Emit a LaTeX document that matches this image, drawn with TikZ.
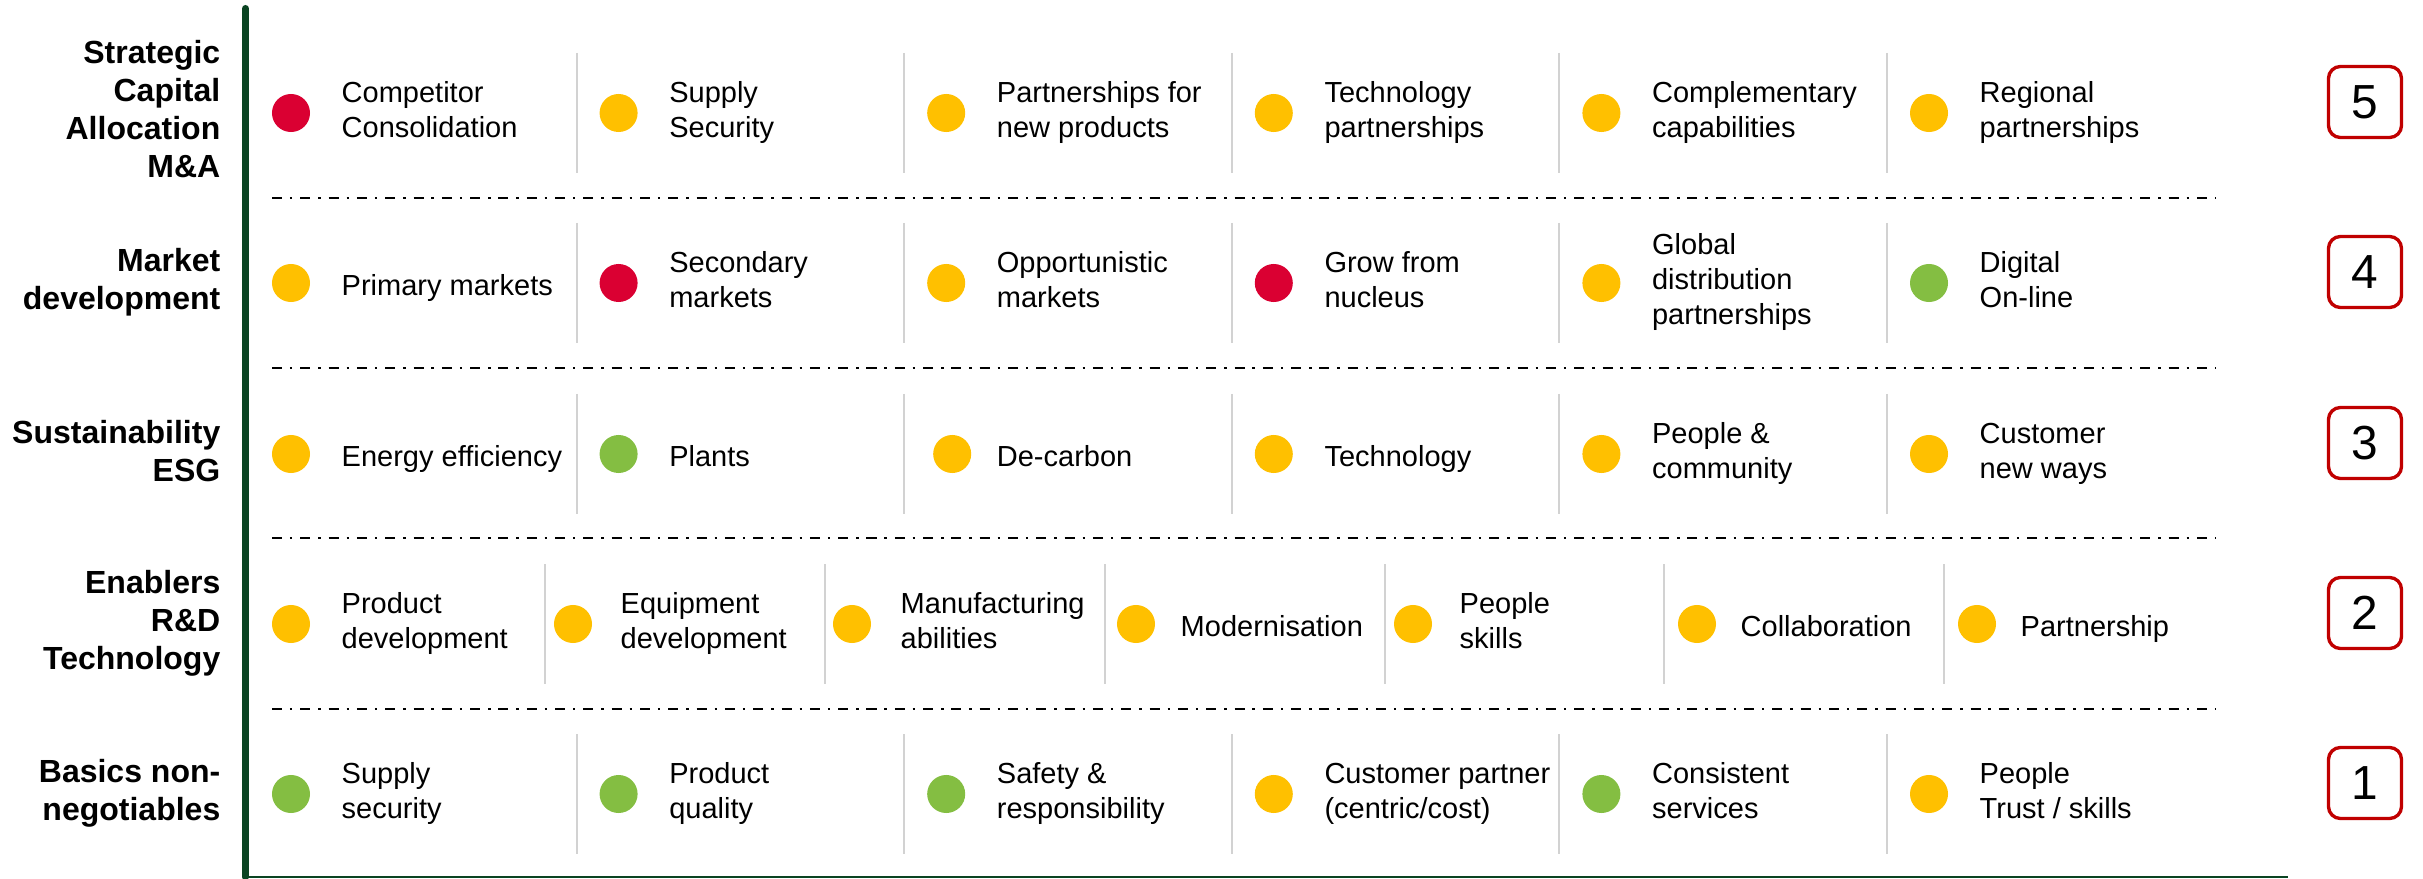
\documentclass[tikz,border=0pt]{standalone}
\usepackage{fontspec}
\setmainfont{Liberation Sans}
\definecolor{axisgreen}{RGB}{10,68,34}
\definecolor{boxred}{RGB}{192,0,0}
\definecolor{divgray}{RGB}{210,210,210}
\definecolor{cred}{RGB}{218,0,50}
\definecolor{cyellow}{RGB}{255,192,0}
\definecolor{cgreen}{RGB}{132,190,66}
% struts fixing the height of the first line and the depth of the last one
\newcommand\itemtop{\rule{0pt}{0.319cm}}
\newcommand\itembot{\rule[-0.071cm]{0pt}{0pt}}
\newcommand\lbltop{\rule{0pt}{0.3045cm}}
\newcommand\lblbot{\rule[-0.0755cm]{0pt}{0pt}}
% a row of six entries: #1 row id, #2 row centre, #3 colour/shift/text
\newcommand\sixrow[3]{%
  \foreach \c/\dx/\t [count=\i from 0] in {#3} {
    \node[dot, fill=\c] (dot#1\i) at ({291+327.6*\i+\dx}, #2) {};
    \node[itemtext] (txt#1\i) at ({341+327.6*\i}, #2) {\t};
  }
  \foreach \i in {1,...,5} {
    \draw[divider] ({249+327.6*\i}, #2-60) -- ({249+327.6*\i}, #2+60);
  }
}
\begin{document}
\begin{tikzpicture}[x=0.01cm, y=-0.01cm,
  dot/.style={circle, inner sep=0pt, minimum size=0.38cm},
  itemtext/.style={anchor=west, inner sep=0pt, align=left,
    font=\fontsize{8.25pt}{9.96pt}\selectfont,
    execute at begin node=\itemtop, execute at end node=\itembot},
  rowlabel/.style={anchor=east, inner sep=0pt, align=right,
    font=\fontsize{9.1pt}{10.8pt}\selectfont\bfseries,
    execute at begin node=\lbltop, execute at end node=\lblbot},
  numbox/.style={draw=boxred, line width=0.95pt, rounded corners=0.12cm,
    minimum width=0.73cm, minimum height=0.71cm, inner sep=0pt,
    font=\fontsize{13.6pt}{16pt}\selectfont},
  divider/.style={draw=divgray, line width=0.6pt},
  rowsep/.style={line width=0.77pt,
    dash pattern=on 2.85pt off 2.25pt on 0.7pt off 2.25pt},
  axisline/.style={draw=axisgreen, line width=2pt},
  footline/.style={draw=axisgreen, line width=0.85pt}
]
\path[use as bounding box] (0,0) rectangle (2423,879);

% vertical axis and bottom rule
\coordinate (axtop) at (245.5,8.5);
\coordinate (axbot) at (245.5,877);
\coordinate (footend) at (2288,877);
\draw[axisline, line cap=round] (axtop) -- (axbot);
\draw[footline] (axbot) -- (footend);

% dash-dot separators between the rows
\foreach \y in {198,368,538,709} {
  \draw[rowsep] (272,\y) -- (2216,\y);
}

% row labels
\node[rowlabel] (lab5) at (221,113) {Strategic\\Capital\\Allocation\\M\&A};
\node[rowlabel] (lab4) at (221,283) {Market\\development};
\node[rowlabel] (lab3) at (221,455) {Sustainability\\ESG};
\node[rowlabel] (lab2) at (221,624) {Enablers\\R\&D\\Technology};
\node[rowlabel] (lab1) at (221,794) {Basics non-\\negotiables};

% level boxes
\node[numbox] (lvl5) at (2365,102) {5};
\node[numbox] (lvl4) at (2365,272) {4};
\node[numbox] (lvl3) at (2365,443) {3};
\node[numbox] (lvl2) at (2365,613) {2};
\node[numbox] (lvl1) at (2365,783) {1};

% entries
\sixrow{5}{113}{cred/0/{Competitor\\Consolidation},
  cyellow/0/{Supply\\Security},
  cyellow/0/{Partnerships for\\new products},
  cyellow/0/{Technology\\partnerships},
  cyellow/0/{Complementary\\capabilities},
  cyellow/0/{Regional\\partnerships}}

\sixrow{4}{283}{cyellow/0/{Primary markets},
  cred/0/{Secondary\\markets},
  cyellow/0/{Opportunistic\\markets},
  cred/0/{Grow from\\nucleus},
  cyellow/0/{Global\\distribution\\partnerships},
  cgreen/0/{Digital\\On-line}}

\sixrow{3}{454}{cyellow/0/{Energy efficiency},
  cgreen/0/{Plants},
  cyellow/6/{De-carbon},
  cyellow/0/{Technology},
  cyellow/0/{People \&\\community},
  cyellow/0/{Customer\\new ways}}

% the enablers row has seven entries
\foreach \c/\dx/\tx/\t [count=\i from 0] in {
  cyellow/291/341/{Product\\development},
  cyellow/573/620/{Equipment\\development},
  cyellow/852/900/{Manufacturing\\abilities},
  cyellow/1136/1180/{Modernisation},
  cyellow/1413/1459/{People\\skills},
  cyellow/1697/1740/{Collaboration},
  cyellow/1977/2020/{Partnership}} {
  \node[dot, fill=\c] (dot2\i) at (\dx,624) {};
  \node[itemtext] (txt2\i) at (\tx,624) {\t};
}
\foreach \x in {545,825,1105,1385,1664,1944} {
  \draw[divider] (\x,564) -- (\x,684);
}

\sixrow{1}{794}{cgreen/0/{Supply\\security},
  cgreen/0/{Product\\quality},
  cgreen/0/{Safety \&\\responsibility},
  cyellow/0/{Customer partner\\(centric/cost)},
  cgreen/0/{Consistent\\services},
  cyellow/0/{People\\Trust / skills}}
\end{tikzpicture}
\end{document}
